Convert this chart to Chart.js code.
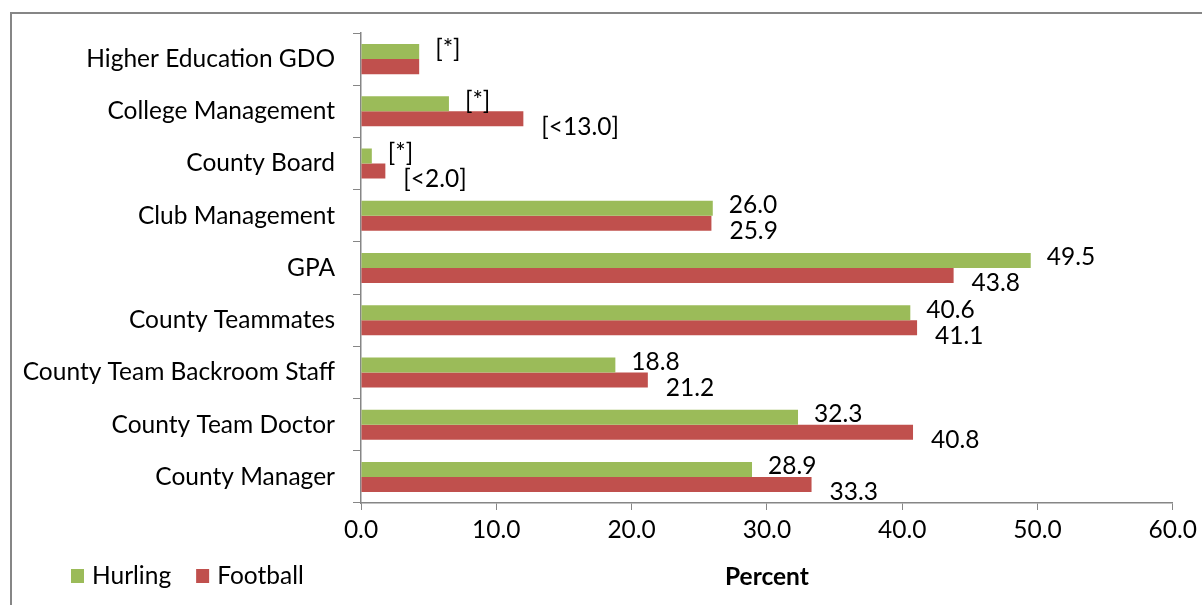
<!DOCTYPE html>
<html>
<head>
<meta charset="utf-8">
<script src="https://cdn.jsdelivr.net/npm/chart.js@4"></script>
<style>
  html, body { margin: 0; padding: 0; background: #fff; }
  #wrap { width: 1202px; height: 605px; position: relative; }
</style>
</head>
<body>
<div id="wrap"><canvas id="myChart" width="1202" height="605"></canvas></div>
<script>
  // chart data
  const categories = [
    'Higher Education GDO', 'College Management', 'County Board', 'Club Management',
    'GPA', 'County Teammates', 'County Team Backroom Staff', 'County Team Doctor', 'County Manager'
  ];
  const hurling  = [4.3, 6.5, 0.8, 26.0, 49.5, 40.6, 18.8, 32.3, 28.9];
  const football = [4.3, 12.0, 1.8, 25.9, 43.8, 41.1, 21.2, 40.8, 33.3];
  const hurlingLabels  = ['[*]', '[*]', '[*]', '26.0', '49.5', '40.6', '18.8', '32.3', '28.9'];
  const footballLabels = ['', '[<13.0]', '[<2.0]', '25.9', '43.8', '41.1', '21.2', '40.8', '33.3'];
  const xTicks = [0, 10, 20, 30, 40, 50, 60];

  const FAMILY = 'Lato, "Open Sans", sans-serif';
  const SIZE = 24.5;
  const AXIS = '#868686';
  const GREEN = '#9BBB59';
  const RED = '#C0504D';

  const extras = {
    id: 'extras',
    afterDatasetsDraw(chart) {
      const ctx = chart.ctx;
      ctx.save();
      ctx.font = SIZE + 'px ' + FAMILY;
      ctx.fillStyle = '#000';
      ctx.textBaseline = 'middle';
      ctx.textAlign = 'left';
      // value labels, nudged like the original
      const nudge = [{ dx: 16, dy: -3 }, { dx: 18, dy: 8 }];
      [hurlingLabels, footballLabels].forEach((labels, i) => {
        chart.getDatasetMeta(i).data.forEach((bar, j) => {
          if (labels[j]) ctx.fillText(labels[j], bar.x + nudge[i].dx, bar.y + nudge[i].dy);
        });
      });

      // legend bottom-left
      let x = 71;
      chart.data.datasets.forEach(ds => {
        ctx.fillStyle = ds.backgroundColor;
        ctx.fillRect(x, 569, 13, 14);
        ctx.fillStyle = '#000';
        ctx.fillText(ds.label, x + 21, 576);
        x += 21 + ctx.measureText(ds.label).width + 25;
      });

      // outer frame
      ctx.strokeStyle = AXIS;
      ctx.lineWidth = 2;
      ctx.strokeRect(11, 13, 1400, 800);
      ctx.restore();
    }
  };

  new Chart(document.getElementById('myChart').getContext('2d'), {
    type: 'bar',
    data: {
      labels: categories,
      datasets: [
        { label: 'Hurling', data: hurling, backgroundColor: GREEN, barPercentage: 1, categoryPercentage: 0.575 },
        { label: 'Football', data: football, backgroundColor: RED, barPercentage: 1, categoryPercentage: 0.575 }
      ]
    },
    options: {
      indexAxis: 'y',
      responsive: false,
      animation: false,
      devicePixelRatio: 1,
      layout: { padding: { top: 33, right: 24, left: 0, bottom: 0 } },
      plugins: { legend: { display: false }, tooltip: { enabled: false } },
      scales: {
        y: {
          grid: { drawOnChartArea: false, offset: true, tickLength: 8, color: AXIS },
          border: { color: AXIS, width: 1.5 },
          ticks: { color: '#000', font: { family: FAMILY, size: SIZE }, padding: 18 },
          afterFit(s) { s.width = 361; }
        },
        x: {
          min: xTicks[0],
          max: xTicks[xTicks.length - 1],
          afterBuildTicks(s) { s.ticks = xTicks.map(v => ({ value: v })); },
          grid: { drawOnChartArea: false, tickLength: 7, color: AXIS },
          border: { color: AXIS, width: 1.5 },
          ticks: { color: '#000', font: { family: FAMILY, size: SIZE }, padding: 5, maxRotation: 0,
                   callback: v => Number(v).toFixed(1) },
          title: { display: true, text: 'Percent', color: '#000',
                   font: { family: FAMILY, size: SIZE, weight: 'bold' }, padding: { top: 0, bottom: 13 } },
          afterFit(s) { s.height = 102; }
        }
      }
    },
    plugins: [extras]
  });
</script>
</body>
</html>
